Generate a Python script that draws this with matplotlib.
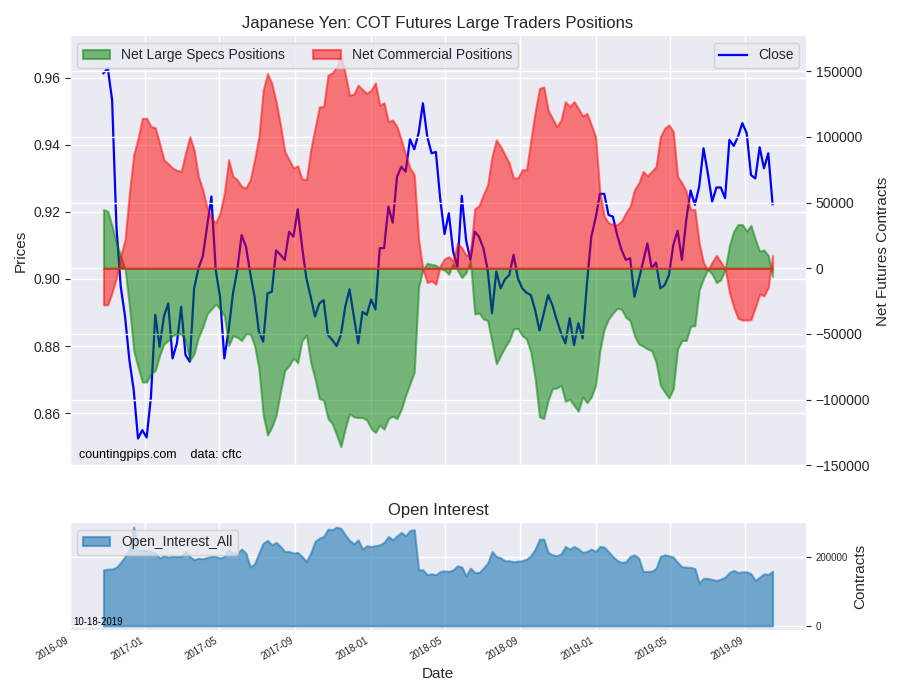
import numpy as np
import pandas as pd
import matplotlib
matplotlib.use('Agg')
import matplotlib.pyplot as plt
import matplotlib.dates as mdates
from matplotlib.lines import Line2D


# Weekly COT report dates (Tuesdays)
dates = pd.date_range('2016-10-25', periods=156, freq='7D')

# Japanese Yen futures close
close = [
    0.9614, 0.9629, 0.9534, 0.9156, 0.8977, 0.8888, 0.8758, 0.8669, 0.8524, 0.8549,
    0.8527, 0.8649, 0.8893, 0.8798, 0.8888, 0.8927, 0.8763, 0.8808, 0.8917, 0.8773,
    0.8753, 0.8972, 0.9032, 0.9067, 0.9156, 0.9246, 0.9027, 0.8947, 0.8763, 0.8848,
    0.8957, 0.9027, 0.9131, 0.9097, 0.9017, 0.8947, 0.8843, 0.8813, 0.8957, 0.8962,
    0.9085, 0.9072, 0.9057, 0.9141, 0.9126, 0.9208, 0.9097, 0.9002, 0.8947, 0.8888,
    0.8927, 0.8937, 0.8833, 0.8818, 0.8800, 0.8833, 0.8917, 0.8969, 0.8888, 0.8808,
    0.8902, 0.8893, 0.8939, 0.8909, 0.9092, 0.9092, 0.9216, 0.9168, 0.9305, 0.9335,
    0.9320, 0.9417, 0.9387, 0.9435, 0.9524, 0.9425, 0.9375, 0.9379, 0.9240, 0.9134,
    0.9196, 0.9082, 0.9037, 0.9248, 0.9116, 0.9057, 0.9141, 0.9126, 0.9092, 0.9027,
    0.8898, 0.9022, 0.8972, 0.8999, 0.9012, 0.9072, 0.9002, 0.8972, 0.8959, 0.8952,
    0.8907, 0.8846, 0.8898, 0.8952, 0.8922, 0.8878, 0.8838, 0.8808, 0.8883, 0.8803,
    0.8868, 0.8823, 0.8987, 0.9126, 0.9181, 0.9254, 0.9254, 0.9191, 0.9186, 0.9131,
    0.9087, 0.9057, 0.9062, 0.8947, 0.8997, 0.9052, 0.9106, 0.9032, 0.9049, 0.8972,
    0.8982, 0.9012, 0.9101, 0.9144, 0.9057, 0.9176, 0.9264, 0.9221, 0.9276, 0.9390,
    0.9315, 0.9231, 0.9273, 0.9273, 0.9241, 0.9415, 0.9397, 0.9425, 0.9465, 0.9435,
    0.9310, 0.9300, 0.9393, 0.9330, 0.9375, 0.9223,
]

# Net large speculator positions, thousands of contracts
specs_k = [
    44.7, 43.4, 32.0, 19.4, 9.3, -0.8, -28.5, -62.6, -75.2, -86.6,
    -86.6, -80.3, -77.8, -66.4, -57.6, -55.0, -51.3, -50.0, -50.0, -55.0,
    -70.2, -65.1, -52.5, -44.9, -34.8, -31.1, -27.3, -31.1, -36.1, -58.8,
    -51.3, -52.5, -55.0, -50.0, -50.0, -58.8, -76.5, -111.9, -127.0, -120.7,
    -111.9, -94.2, -77.8, -74.0, -68.4, -72.0, -55.0, -50.8, -71.5, -84.1,
    -99.2, -100.5, -114.4, -118.2, -127.0, -135.8, -122.0, -110.6, -113.1, -113.6,
    -113.6, -115.6, -122.0, -125.0, -119.4, -122.5, -114.4, -112.6, -114.4, -107.3,
    -96.7, -87.9, -79.0, -14.6, -0.8, 3.8, 3.0, 2.3, -0.3, -1.5,
    -4.5, 3.8, -1.3, -7.1, -3.3, 5.6, -34.8, -34.1, -38.6, -39.9,
    -56.3, -72.7, -66.4, -60.1, -55.0, -46.2, -45.7, -51.3, -53.8, -63.9,
    -84.1, -113.1, -114.4, -100.5, -91.7, -91.2, -89.1, -101.3, -99.7, -104.3,
    -108.8, -98.0, -102.3, -98.0, -89.1, -62.6, -46.2, -38.6, -34.1, -30.6,
    -31.1, -37.4, -39.9, -51.3, -57.6, -59.3, -61.4, -62.6, -71.5, -89.1,
    -94.2, -98.7, -91.7, -61.4, -55.0, -55.0, -44.2, -43.7, -16.4, -7.8,
    -0.8, -4.5, -10.9, -8.8, -0.8, 17.4, 28.3, 33.3, 33.3, 28.3,
    32.6, 22.0, 13.1, 13.9, 9.8, -6.3,
]

# Net commercial positions, thousands of contracts
comm_k = [
    -27.8, -27.8, -18.4, -7.1, 9.3, 22.0, 57.3, 86.4, 99.0, 114.1,
    114.1, 107.8, 107.0, 95.2, 82.6, 79.5, 76.3, 74.5, 73.7, 87.6,
    100.2, 90.1, 69.9, 59.8, 46.0, 38.4, 34.6, 42.2, 57.3, 82.6,
    69.9, 67.4, 62.4, 61.1, 67.4, 82.6, 100.2, 135.6, 148.2, 140.6,
    126.8, 109.1, 88.9, 82.6, 76.3, 78.0, 67.9, 67.4, 90.1, 106.6,
    123.0, 123.0, 147.0, 148.7, 153.3, 162.1, 148.2, 131.8, 132.6, 139.4,
    136.1, 133.1, 135.6, 141.1, 124.2, 126.0, 111.6, 112.9, 107.8, 97.7,
    86.4, 76.3, 71.2, 22.0, -0.8, -10.9, -9.6, -12.1, 1.8, 7.3,
    8.8, 5.6, 18.9, 15.7, 9.8, 11.9, 45.2, 47.7, 56.1, 63.6,
    85.1, 97.7, 92.7, 86.4, 80.0, 68.7, 68.7, 75.0, 75.0, 97.7,
    119.2, 136.9, 138.1, 120.4, 114.1, 107.8, 112.9, 126.8, 123.0, 126.8,
    121.7, 115.9, 117.9, 109.1, 100.2, 57.3, 39.6, 34.6, 33.3, 33.3,
    35.9, 42.2, 47.2, 59.8, 64.9, 73.7, 70.4, 73.7, 77.5, 100.2,
    106.6, 109.1, 104.0, 69.9, 64.9, 58.6, 44.7, 44.7, 19.4, 4.3,
    -1.3, 4.8, 9.8, 4.8, -0.3, -18.4, -29.8, -38.1, -39.4, -39.4,
    -39.1, -29.8, -19.7, -21.0, -14.6, 9.8,
]

# Open interest, thousands of contracts
oi_k = [
    162.3, 164.3, 164.3, 170.1, 183.6, 201.0, 220.3, 286.0, 220.3, 218.4,
    218.4, 215.5, 210.7, 196.2, 202.9, 199.1, 201.0, 201.0, 201.0, 215.5,
    201.0, 191.3, 196.2, 194.2, 198.1, 201.0, 201.0, 196.2, 201.0, 220.3,
    210.7, 210.7, 222.2, 210.7, 170.1, 179.7, 210.7, 239.6, 247.4, 234.8,
    241.6, 230.0, 215.5, 215.5, 210.7, 212.6, 201.0, 186.5, 210.7, 244.5,
    254.1, 259.0, 280.2, 278.3, 286.0, 282.2, 263.8, 247.4, 237.7, 249.3,
    222.2, 231.9, 230.0, 231.9, 234.8, 241.6, 259.0, 249.3, 260.9, 270.6,
    260.9, 276.4, 278.3, 162.3, 162.3, 147.8, 150.7, 147.8, 157.5, 159.4,
    157.5, 162.3, 173.9, 170.1, 144.9, 167.2, 154.6, 154.6, 167.2, 181.7,
    215.5, 201.0, 197.1, 188.4, 188.4, 185.5, 187.5, 188.4, 193.3, 202.9,
    222.2, 251.2, 251.2, 212.6, 205.8, 202.9, 208.7, 230.0, 222.2, 230.0,
    223.2, 212.6, 215.5, 222.2, 215.5, 230.0, 228.0, 214.5, 201.0, 189.4,
    183.6, 185.5, 201.0, 205.8, 196.2, 157.5, 157.5, 158.5, 166.2, 201.0,
    205.8, 202.9, 199.1, 183.6, 171.0, 170.1, 169.1, 166.2, 123.7, 138.2,
    137.2, 134.3, 131.4, 135.3, 141.1, 154.6, 160.4, 154.6, 156.5, 156.5,
    150.7, 131.4, 141.1, 150.7, 148.8, 158.5,
]


def main():
    plt.rcParams.update({
        'font.family': ['Liberation Sans', 'DejaVu Sans'],
        'font.size': 10,
        'axes.facecolor': '#EAEAF2',
        'axes.edgecolor': 'white',
        'axes.linewidth': 0,
        'axes.grid': True,
        'axes.axisbelow': True,
        'axes.labelcolor': '.15',
        'axes.labelsize': 11,
        'axes.titlesize': 12,
        'grid.color': 'white',
        'grid.linewidth': 1,
        'text.color': '.15',
        'xtick.color': '.15',
        'ytick.color': '.15',
        'xtick.major.size': 0,
        'ytick.major.size': 3.5,
        'legend.fontsize': 10,
    })

    specs = np.array(specs_k) * 1000
    comm = np.array(comm_k) * 1000
    oi = np.array(oi_k) * 1000

    fig = plt.figure(figsize=(9, 7), dpi=100)
    ax1 = fig.add_axes([0.0778, 0.3343, 0.8178, 0.6143])
    ax3 = fig.add_axes([0.0778, 0.1, 0.8178, 0.1529], sharex=ax1)

    # Price line on the left axis
    ax1.plot(dates, close, color='blue', linewidth=1.6, label='Close')
    ax1.set_ylim(0.8442, 0.9725)
    ax1.set_ylabel('Prices')
    ax1.set_title('Japanese Yen: COT Futures Large Traders Positions')
    ax1.tick_params(axis='x', labelbottom=False)

    # Positions on the right axis
    ax2 = ax1.twinx()
    f_specs = ax2.fill_between(dates, 0, specs, color='green', alpha=0.5,
                               linewidth=1.5, label='Net Large Specs Positions')
    f_comm = ax2.fill_between(dates, 0, comm, color='red', alpha=0.5,
                              linewidth=1.5, label='Net Commercial Positions')
    ax2.set_ylim(-150500, 176800)
    ax2.set_yticks([-150000, -100000, -50000, 0, 50000, 100000, 150000])
    ax2.set_ylabel('Net Futures Contracts')
    ax2.grid(True, axis='y')
    ax2.grid(False, axis='x')

    leg = ax2.legend(handles=[f_specs, f_comm], loc='upper left', ncol=2)
    ax2.add_artist(leg)
    ax2.legend(handles=[Line2D([], [], color='blue', linewidth=1.6)],
               labels=['Close'], loc='upper right')

    ax1.text(0.012, 0.012, 'countingpips.com    data: cftc',
             transform=ax1.transAxes, fontsize=9, color='black', va='bottom')

    # Open interest panel
    f_oi = ax3.fill_between(dates, 0, oi, facecolor='#1f77b4', edgecolor='#1f77b4',
                            alpha=0.6, linewidth=1.5, label='Open_Interest_All')
    ax3.set_ylim(-12000, 298000)
    ax3.set_yticks([0, 200000])
    ax3.yaxis.tick_right()
    ax3.yaxis.set_label_position('right')
    ax3.tick_params(axis='y', labelsize=7)
    ax3.set_ylabel('Contracts')
    ax3.set_title('Open Interest')
    ax3.set_xlabel('Date')
    ax3.legend(handles=[f_oi], loc='upper left')
    ax3.text(0.005, 0.03, '10-18-2019', transform=ax3.transAxes,
             fontsize=7, color='black', va='bottom')

    ax3.xaxis.set_major_locator(mdates.MonthLocator(bymonth=[1, 5, 9]))
    ax3.xaxis.set_major_formatter(mdates.DateFormatter('%Y-%m'))
    for lbl in ax3.get_xticklabels():
        lbl.set_rotation(30)
        lbl.set_ha('right')
        lbl.set_fontsize(7)

    fig.savefig('out.png', dpi=100)


if __name__ == '__main__':
    main()
